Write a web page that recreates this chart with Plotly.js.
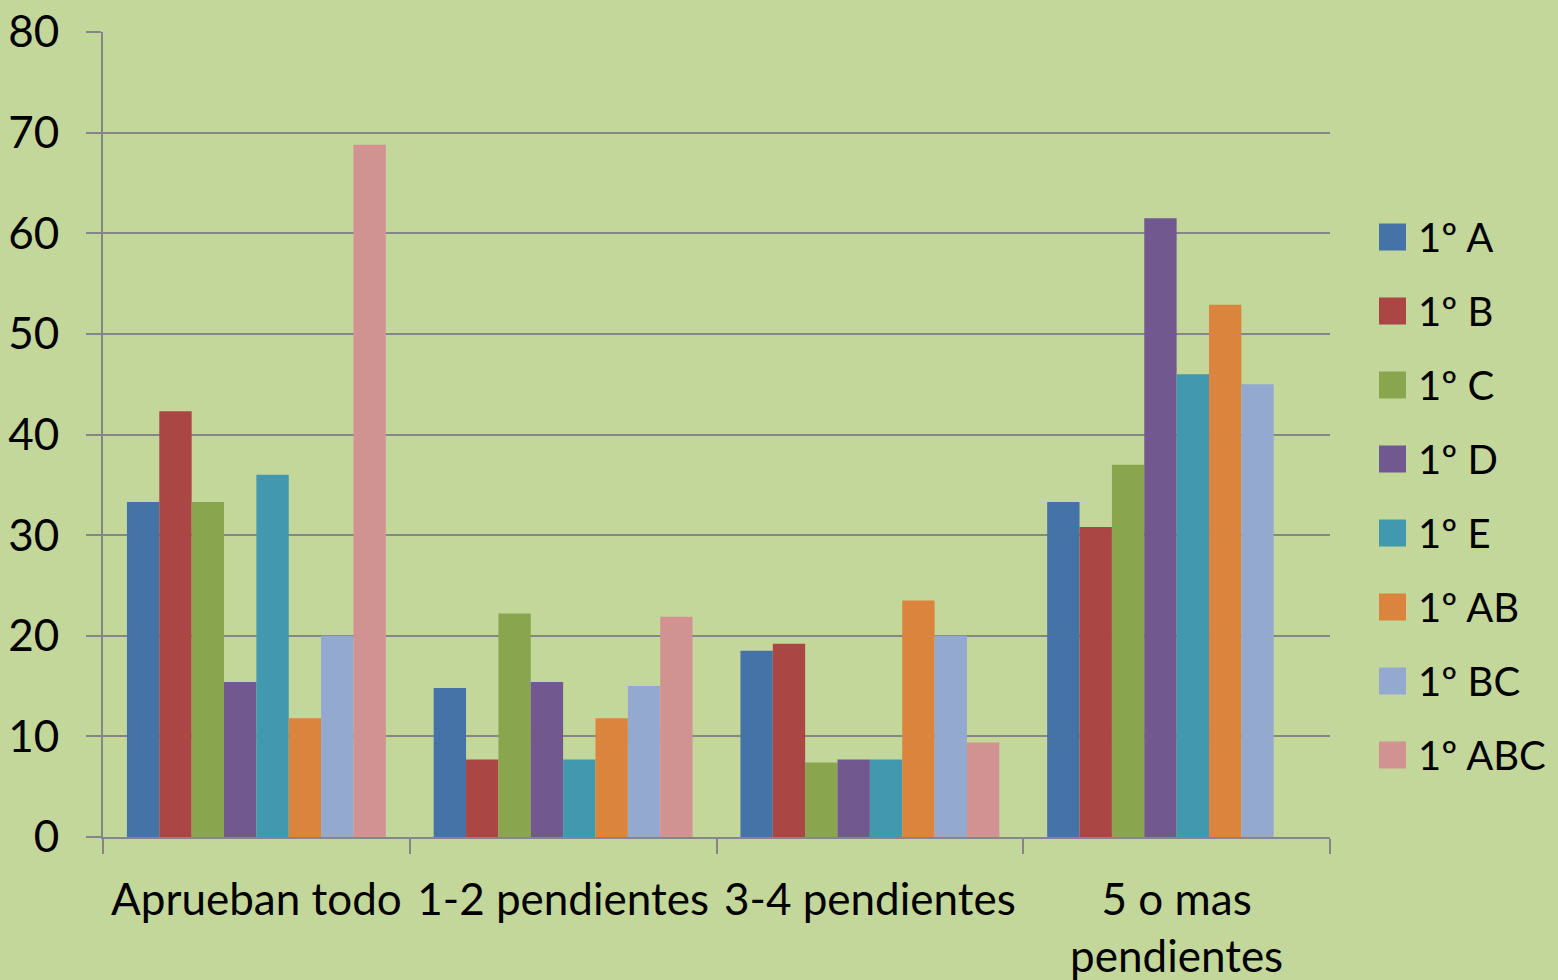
<!DOCTYPE html>
<html>
<head>
<meta charset="utf-8">
<script src="https://cdn.plot.ly/plotly-3.0.1.min.js"></script>
<style>
  html, body { margin: 0; padding: 0; background: #C4D79B; }
  #chart { width: 1558px; height: 980px; }
</style>
</head>
<body>
<div id="chart"></div>
<script>
var categorias = ['Aprueban todo', '1-2 pendientes', '3-4 pendientes', '5 o mas<br>pendientes'];

var grupos = ['1º A', '1º B', '1º C', '1º D', '1º E', '1º AB', '1º BC', '1º ABC'];

var valores1A   = [33.3, 14.8, 18.5, 33.3];
var valores1B   = [42.3, 7.7, 19.2, 30.8];
var valores1C   = [33.3, 22.2, 7.4, 37.0];
var valores1D   = [15.4, 15.4, 7.7, 61.5];
var valores1E   = [36.0, 7.7, 7.7, 46.0];
var valores1AB  = [11.8, 11.8, 23.5, 52.9];
var valores1BC  = [20.0, 15.0, 20.0, 45.0];
var valores1ABC = [68.8, 21.9, 9.4, 0];

var colores = ['#4572A7', '#AA4643', '#89A54E', '#71588F', '#4198AF', '#DB843D', '#93A9CF', '#D19392'];

var series = [valores1A, valores1B, valores1C, valores1D, valores1E, valores1AB, valores1BC, valores1ABC];

var data = series.map(function (vals, i) {
    return {
        type: 'bar',
        x: categorias,
        y: vals,
        name: grupos[i],
        marker: { color: colores[i] },
        hoverinfo: 'x+y+name'
    };
});

var fuente = { family: 'Lato, "Open Sans", sans-serif', size: 44, color: '#000000' };
var fuenteLeyenda = { family: 'Lato, "Open Sans", sans-serif', size: 40, color: '#000000' };

// leyenda dibujada a mano (cuadros grandes como en Excel)
var margen = { l: 103, r: 228, t: 32, b: 143 };
var anchoPlot = 1558 - margen.l - margen.r;
var altoPlot = 980 - margen.t - margen.b;
function px2x(px) { return (px - margen.l) / anchoPlot; }
function px2y(py) { return (980 - margen.b - py) / altoPlot; }

var shapes = [];
var annotations = [];
grupos.forEach(function (g, i) {
    var cy = 237 + 74 * i;
    shapes.push({
        type: 'rect', xref: 'paper', yref: 'paper',
        x0: px2x(1379), x1: px2x(1406),
        y0: px2y(cy + 13.5), y1: px2y(cy - 13.5),
        fillcolor: colores[i], line: { width: 0 }
    });
    annotations.push({
        xref: 'paper', yref: 'paper',
        x: px2x(1416), y: px2y(cy),
        xanchor: 'left', yanchor: 'middle',
        text: g, showarrow: false, font: fuenteLeyenda
    });
});

var layout = {
    width: 1558,
    height: 980,
    paper_bgcolor: '#C4D79B',
    plot_bgcolor: '#C4D79B',
    font: fuente,
    barmode: 'group',
    bargap: 0.156,
    bargroupgap: 0,
    showlegend: false,
    margin: margen,
    shapes: shapes,
    annotations: annotations,
    xaxis: {
        type: 'category',
        tickson: 'boundaries',
        ticks: 'outside',
        ticklen: 15,
        tickwidth: 2,
        tickcolor: '#868686',
        showline: true,
        linecolor: '#868686',
        linewidth: 2,
        showgrid: false,
        ticklabelstandoff: 23,
        tickfont: fuente
    },
    yaxis: {
        range: [0, 80],
        dtick: 10,
        ticks: 'outside',
        ticklen: 15,
        tickwidth: 2,
        tickcolor: '#868686',
        showline: true,
        linecolor: '#868686',
        linewidth: 2,
        showgrid: true,
        gridcolor: '#868686',
        gridwidth: 2,
        zeroline: false,
        ticklabelstandoff: 18,
        tickfont: fuente
    }
};

Plotly.newPlot('chart', data, layout, { displayModeBar: false });
</script>
</body>
</html>
